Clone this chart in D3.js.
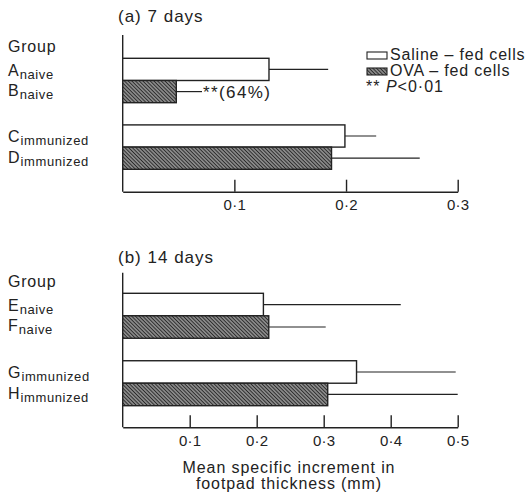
<!DOCTYPE html>
<html lang="en">
<head>
  <meta charset="UTF-8">
  <title>Footpad thickness</title>
  <script src="https://cdn.jsdelivr.net/npm/d3@7"></script>
  <style>
    body { margin: 0; background: #fff; }
    text { font-family: "Liberation Sans", Arial, sans-serif; fill: #222; letter-spacing: 0.8px; }
    .axis path, .axis line { stroke: #222; stroke-width: 1.4; fill: none; }
    .axis text { font-size: 15px; letter-spacing: 0.3px; }
  </style>
</head>
<body>
<svg width="525" height="495"></svg>
<script>
  // panel (a) 7 days
  const groupsA = ["A", "B", "C", "D"];
  const subsA = ["naive", "naive", "immunized", "immunized"];
  const meansA = [0.131, 0.048, 0.199, 0.187];
  const errsA = [0.053, 0.023, 0.028, 0.079];
  const ticksA = [0.1, 0.2, 0.3];

  // panel (b) 14 days
  const groupsB = ["E", "F", "G", "H"];
  const subsB = ["naive", "naive", "immunized", "immunized"];
  const meansB = [0.210, 0.218, 0.349, 0.306];
  const errsB = [0.205, 0.085, 0.148, 0.194];
  const ticksB = [0.1, 0.2, 0.3, 0.4, 0.5];

  // saline / OVA alternate within each pair
  const cellType = ["saline", "ova", "saline", "ova"];

  const svg = d3.select("svg");
  const ink = "#222";

  // hatch pattern for OVA-fed bars
  const pat = svg.append("defs").append("pattern")
    .attr("id", "hatch")
    .attr("patternUnits", "userSpaceOnUse")
    .attr("width", 2.6).attr("height", 2.6)
    .attr("patternTransform", "rotate(45)");
  pat.append("rect").attr("width", 2.6).attr("height", 2.6).attr("fill", "#8a8a8a");
  pat.append("line").attr("x1", 0).attr("y1", 0).attr("x2", 2.6).attr("y2", 0)
    .attr("stroke", "#2a2a2a").attr("stroke-width", 1.8);

  const fmt = d => d3.format(".1f")(d).replace(".", "·");

  function drawPanel(cfg) {
    const x = d3.scaleLinear().domain([0, cfg.max]).range([122.7, 457.7]);
    const y = d3.scaleBand().domain([cfg.groups[0], cfg.groups[1], "gap", cfg.groups[2], cfg.groups[3]])
      .range([cfg.top, cfg.bottom]);
    const g = svg.append("g");

    // title
    g.append("text").attr("x", 118).attr("y", cfg.titleY)
      .style("font-size", "17px").style("letter-spacing", "1px").text(cfg.title);

    // vertical axis line
    g.append("line").attr("x1", x(0)).attr("x2", x(0))
      .attr("y1", cfg.axisTop).attr("y2", cfg.baseY)
      .attr("stroke", ink).attr("stroke-width", 1.4);

    // x axis
    g.append("g").attr("class", "axis")
      .attr("transform", `translate(0,${cfg.baseY})`)
      .call(d3.axisBottom(x).tickValues(cfg.ticks).tickSizeInner(-12).tickSizeOuter(0)
        .tickPadding(8).tickFormat(fmt));

    // error lines
    g.selectAll(".err").data(cfg.groups).enter().append("line")
      .attr("x1", (d, i) => x(cfg.means[i]))
      .attr("x2", (d, i) => x(cfg.means[i] + cfg.errs[i]))
      .attr("y1", d => y(d) + y.bandwidth() / 2)
      .attr("y2", d => y(d) + y.bandwidth() / 2)
      .attr("stroke", ink).attr("stroke-width", 1.2);

    // bars
    g.selectAll(".bar").data(cfg.groups).enter().append("rect")
      .attr("x", x(0))
      .attr("y", d => y(d))
      .attr("width", (d, i) => x(cfg.means[i]) - x(0))
      .attr("height", y.bandwidth())
      .attr("fill", (d, i) => cellType[i] === "ova" ? "url(#hatch)" : "#fff")
      .attr("stroke", ink).attr("stroke-width", 1.4);

    // group labels
    g.append("text").attr("x", 8).attr("y", cfg.top - 6)
      .style("font-size", "16px").text("Group");
    const pairs = [[0, 1], [2, 3]];
    pairs.forEach(p => {
      const c = y(cfg.groups[p[1]]);
      [c - 5, c + 15.5].forEach((by, k) => {
        const i = p[k];
        const t = g.append("text").attr("x", 8).attr("y", by).style("font-size", "16px")
          .style("letter-spacing", "0px");
        t.append("tspan").text(cfg.groups[i]);
        t.append("tspan").attr("dy", 3).attr("dx", 1).style("font-size", "13px")
          .style("letter-spacing", "0.6px").text(cfg.subs[i]);
      });
    });
    return { x, y, g };
  }

  const pA = drawPanel({
    title: "(a) 7 days", titleY: 22, axisTop: 35, baseY: 191.7,
    top: 58.3, bottom: 169.3, max: 0.3,
    groups: groupsA, subs: subsA, means: meansA, errs: errsA, ticks: ticksA
  });
  drawPanel({
    title: "(b) 14 days", titleY: 263, axisTop: 272.7, baseY: 427.3,
    top: 293.3, bottom: 405.7, max: 0.5,
    groups: groupsB, subs: subsB, means: meansB, errs: errsB, ticks: ticksB
  });

  // significance mark on B
  pA.g.append("text")
    .attr("x", pA.x(meansA[1] + errsA[1]) + 1)
    .attr("y", pA.y("B") + pA.y.bandwidth() / 2 + 6)
    .style("font-size", "17px").style("letter-spacing", "1.4px").text("**(64%)");

  // legend
  const leg = svg.append("g");
  const legItems = [
    { fill: "#fff", label: "Saline – fed cells", y: 60 },
    { fill: "url(#hatch)", label: "OVA – fed cells", y: 76 }
  ];
  legItems.forEach(l => {
    leg.append("rect").attr("x", 367).attr("y", l.y - 8).attr("width", 20).attr("height", 7)
      .attr("fill", l.fill).attr("stroke", ink).attr("stroke-width", 1.1);
    leg.append("text").attr("x", 390).attr("y", l.y).style("font-size", "16px").text(l.label);
  });
  const pt = leg.append("text").attr("x", 366).attr("y", 92).style("font-size", "16px")
    .style("letter-spacing", "1px");
  pt.append("tspan").text("** ");
  pt.append("tspan").style("font-style", "italic").text("P");
  pt.append("tspan").text("<0·01");

  // x axis title
  svg.append("text").attr("x", 289).attr("y", 473).attr("text-anchor", "middle")
    .style("font-size", "16px").style("letter-spacing", "0.9px").text("Mean specific increment in");
  svg.append("text").attr("x", 289).attr("y", 489).attr("text-anchor", "middle")
    .style("font-size", "16px").style("letter-spacing", "0.9px").text("footpad thickness (mm)");
</script>
</body>
</html>
